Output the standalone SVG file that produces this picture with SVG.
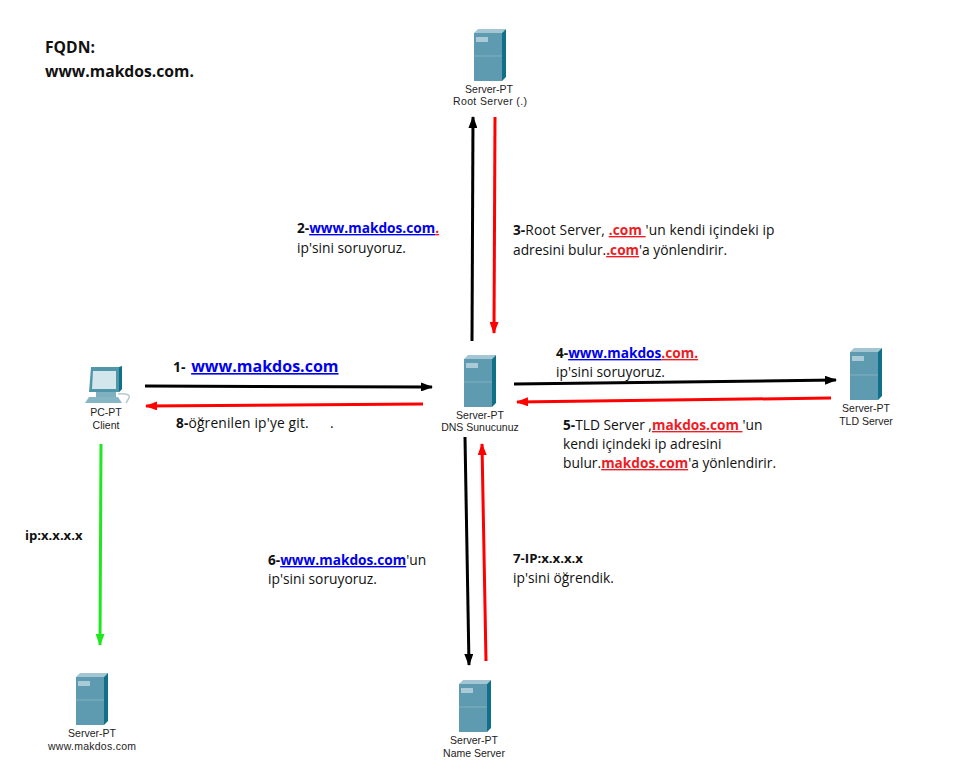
<svg xmlns="http://www.w3.org/2000/svg" width="954" height="783" viewBox="0 0 954 783">
<style>
text{font-family:"Open Sans","DejaVu Sans",sans-serif;font-size:13.8px;fill:#111}
.b{font-weight:700;font-size:13.6px}
.u{font-weight:700;font-size:13.7px;fill:#0000ee;text-decoration:underline}
.r{font-weight:700;font-size:13.7px;fill:#ee1c25;text-decoration:underline}
.n{font-family:"Liberation Sans",Arial,sans-serif;font-size:10.5px;text-anchor:middle;fill:#222}
.k{stroke:#000;stroke-width:3;fill:none}
.rd{stroke:#f00;stroke-width:3;fill:none}
.g{stroke:#1fe81f;stroke-width:3;fill:none}
</style>
<defs>
<marker id="ak" markerUnits="userSpaceOnUse" markerWidth="12" markerHeight="9" refX="11" refY="4.5" orient="auto"><path d="M0 0L12 4.5L0 9z" fill="#000"/></marker>
<marker id="ar" markerUnits="userSpaceOnUse" markerWidth="12" markerHeight="9" refX="11" refY="4.5" orient="auto"><path d="M0 0L12 4.5L0 9z" fill="#f00"/></marker>
<marker id="ag" markerUnits="userSpaceOnUse" markerWidth="12" markerHeight="9" refX="11" refY="4.5" orient="auto"><path d="M0 0L12 4.5L0 9z" fill="#1fe81f"/></marker>
<g id="srv">
<path d="M0 4L4 0H32L28 4z" fill="#a3c6d2"/>
<path d="M28 4L32 0V48L28 52z" fill="#0f7088"/>
<path d="M0 4H28V52H0z" fill="#5e9bb1"/>
<rect x="2" y="8" width="12" height="5" fill="#a9cad6"/>
<path d="M0 27H28" stroke="#80b0c0" stroke-width="1"/>
</g>
</defs>
<g id="connectors">
<line class="k" x1="145" y1="386" x2="432" y2="387" marker-end="url(#ak)"/>
<line class="rd" x1="423" y1="404" x2="146" y2="406" marker-end="url(#ar)"/>
<line class="k" x1="472" y1="341" x2="473" y2="117" marker-end="url(#ak)"/>
<line class="rd" x1="495" y1="117" x2="494" y2="333" marker-end="url(#ar)"/>
<line class="k" x1="514" y1="384" x2="836" y2="380" marker-end="url(#ak)"/>
<line class="rd" x1="831" y1="398" x2="517" y2="402" marker-end="url(#ar)"/>
<line class="k" x1="465" y1="437" x2="469" y2="665" marker-end="url(#ak)"/>
<line class="rd" x1="486" y1="661" x2="482" y2="444" marker-end="url(#ar)"/>
<line class="g" x1="101" y1="444" x2="100" y2="645" marker-end="url(#ag)"/>
</g>
<g id="title"><text class="b" x="45" y="53" style="font-size:15.7px">FQDN:</text><text class="b" x="45" y="77" style="font-size:15.7px">www.makdos.com.</text></g>
<g id="root-server"><use href="#srv" x="474" y="29"/><text class="n" x="489" y="93">Server-PT</text><text class="n" x="490" y="105" textLength="74">Root Server (.)</text></g>
<g id="dns-server"><use href="#srv" x="464" y="355"/><text class="n" x="480" y="419">Server-PT</text><text class="n" x="480" y="431">DNS Sunucunuz</text></g>
<g id="tld-server"><use href="#srv" x="850" y="348"/><text class="n" x="866" y="412">Server-PT</text><text class="n" x="866" y="425">TLD Server</text></g>
<g id="name-server"><use href="#srv" x="459" y="680"/><text class="n" x="474" y="744">Server-PT</text><text class="n" x="474" y="757">Name Server</text></g>
<g id="web-server"><use href="#srv" x="76" y="673"/><text class="n" x="92" y="737">Server-PT</text><text class="n" x="92" y="750" textLength="88">www.makdos.com</text></g>
<g id="client">
<path d="M91 367H119L122 369V389L119 392H89z" fill="#4f96a9"/>
<path d="M93 371H116V389H92z" fill="#d3e6ec"/>
<path d="M119 367L122 366V389L119 392z" fill="#0f7088"/>
<path d="M96 392H116V397H96z" fill="#7fb0bf"/>
<path d="M89 397H118L122 403H85z" fill="#86b6c4"/>
<path d="M118 394Q131 393 129 398L126 403" fill="none" stroke="#b5c9d0" stroke-width="1.5"/>
<text class="n" x="106" y="416">PC-PT</text><text class="n" x="106" y="429">Client</text>
</g>
<g id="labels">
<text x="173" y="372"><tspan class="b" style="font-size:14px">1-  </tspan><tspan class="u" dx="2" style="font-size:16px">www.makdos.com</tspan></text>
<text x="176" y="428" style="letter-spacing:.16px"><tspan class="b">8-</tspan>öğrenilen ip'ye git.</text>
<text x="330" y="428">.</text>
<text x="297" y="233"><tspan class="b">2-</tspan><tspan class="u">www.makdos.com</tspan><tspan class="r">.</tspan></text>
<text x="297" y="253">ip'sini soruyoruz.</text>
<text x="513" y="235" style="letter-spacing:.1px"><tspan class="b">3-</tspan>Root Server, <tspan class="r">.com </tspan>'un kendi içindeki ip</text>
<text x="513" y="255">adresini bulur.<tspan class="r">.com</tspan>'a yönlendirir.</text>
<text x="556" y="358"><tspan class="b">4-</tspan><tspan class="u">www.makdos</tspan><tspan class="r">.com.</tspan></text>
<text x="556" y="377">ip'sini soruyoruz.</text>
<text x="563" y="430"><tspan class="b">5-</tspan>TLD Server ,<tspan class="r">makdos.com </tspan>'un</text>
<text x="563" y="449">kendi içindeki ip adresini</text>
<text x="563" y="468">bulur.<tspan class="r">makdos.com</tspan>'a yönlendirir.</text>
<text x="268" y="565"><tspan class="b">6-</tspan><tspan class="u">www.makdos.com</tspan>'un</text>
<text x="268" y="584">ip'sini soruyoruz.</text>
<text class="b" x="513" y="563" style="font-size:13.2px">7-IP:x.x.x.x</text>
<text x="513" y="583">ip'sini öğrendik.</text>
<text class="b" x="25" y="540" style="font-size:13.1px">ip:x.x.x.x</text>
</g>
</svg>
